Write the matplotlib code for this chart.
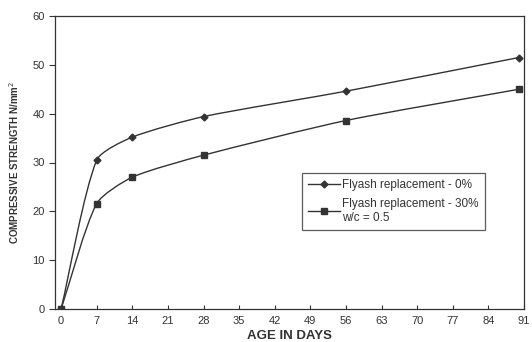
import numpy as np
import matplotlib
matplotlib.use("Agg")
import matplotlib.pyplot as plt
from matplotlib.path import Path
from matplotlib.patches import PathPatch

plt.rcParams['font.family'] = ['Liberation Sans', 'DejaVu Sans']

# data
days = [0, 7, 14, 28, 56, 90]
strength_0 = [0, 30.5, 35.2, 39.4, 44.6, 51.5]    # flyash 0%
strength_30 = [0, 21.6, 27.0, 31.5, 38.6, 45.0]   # flyash 30%, w/c 0.5
x_ticks = [0, 7, 14, 21, 28, 35, 42, 49, 56, 63, 70, 77, 84, 91]
y_ticks = [0, 10, 20, 30, 40, 50, 60]
labels = ["Flyash replacement - 0%", "Flyash replacement - 30%\nw/c = 0.5"]

ink = "#333333"


def smooth_path(ax, x, y, k=0.22):
    """Bezier path through the points (smoothed line), built in pixel space."""
    p = ax.transData.transform(np.column_stack([x, y]).astype(float))
    n = len(p)
    tang = []
    for i in range(n):
        d = p[min(i + 1, n - 1)] - p[max(i - 1, 0)]
        tang.append(d / np.hypot(*d))
    verts = [p[0]]
    codes = [Path.MOVETO]
    for i in range(n - 1):
        seg = np.hypot(*(p[i + 1] - p[i]))
        c1 = p[i] + tang[i] * seg * k
        c2 = p[i + 1] - tang[i + 1] * seg * k
        verts += [c1, c2, p[i + 1]]
        codes += [Path.CURVE4] * 3
    return Path(verts, codes)


fig = plt.figure(figsize=(5.32, 3.42), dpi=100)
ax = fig.add_axes([55 / 532, 33 / 342, 469 / 532, 293 / 342])
ax.set_xlim(-1.2, 91)
ax.set_ylim(0, 60)

for ys, mk, ms, lab in [(strength_0, "D", 3.5, labels[0]),
                        (strength_30, "s", 4.5, labels[1])]:
    ax.add_patch(PathPatch(smooth_path(ax, days, ys), fill=False, ec=ink,
                           lw=1.0, transform=None))
    ax.plot(days, ys, ls="none", marker=mk, ms=ms, color=ink)
    ax.plot([], [], color=ink, lw=1.0, marker=mk, ms=ms, label=lab)

ax.set_xticks(x_ticks)
ax.set_yticks(y_ticks)
ax.tick_params(axis="x", direction="in", length=3, labelsize=8, colors=ink, pad=5)
ax.tick_params(axis="y", direction="out", length=4, labelsize=8, colors=ink)
for s in ax.spines.values():
    s.set_color(ink)
    s.set_linewidth(0.9)

ax.set_xlabel("AGE IN DAYS", fontsize=9.5, fontweight="bold", color=ink, labelpad=3)
ax.set_ylabel("COMPRESSIVE STRENGTH N/mm$^2$", fontsize=7, fontweight="bold",
              color=ink, family=["Liberation Sans Narrow", "Liberation Sans"],
              labelpad=8)

leg = ax.legend(loc="upper left", bbox_to_anchor=(0.527, 0.464),
                borderaxespad=0, fontsize=8.5, frameon=True, fancybox=False,
                handlelength=2.7, handletextpad=0.2, borderpad=0.5,
                labelspacing=0.6)
leg.get_frame().set_edgecolor(ink)
leg.get_frame().set_linewidth(0.9)
for t in leg.get_texts():
    t.set_color(ink)

fig.savefig("out.png", dpi=100)
